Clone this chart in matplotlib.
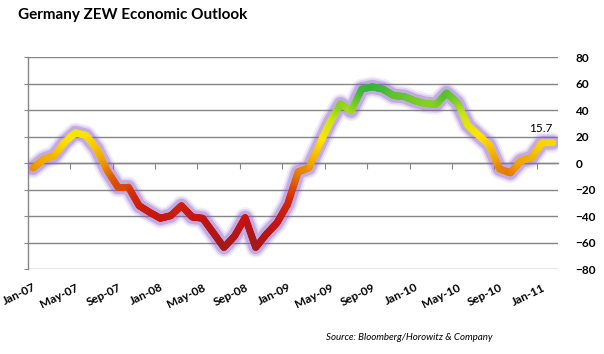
import numpy as np
import matplotlib
matplotlib.use("Agg")
import matplotlib.pyplot as plt
from matplotlib.collections import LineCollection
from matplotlib.colors import LinearSegmentedColormap, Normalize

plt.rcParams['font.family'] = ['Lato', 'DejaVu Sans']

# ZEW economic sentiment, Jan-07 .. Feb-11 (monthly)
months = ['Jan-07', 'Feb-07', 'Mar-07', 'Apr-07', 'May-07', 'Jun-07', 'Jul-07', 'Aug-07',
          'Sep-07', 'Oct-07', 'Nov-07', 'Dec-07', 'Jan-08', 'Feb-08', 'Mar-08', 'Apr-08',
          'May-08', 'Jun-08', 'Jul-08', 'Aug-08', 'Sep-08', 'Oct-08', 'Nov-08', 'Dec-08',
          'Jan-09', 'Feb-09', 'Mar-09', 'Apr-09', 'May-09', 'Jun-09', 'Jul-09', 'Aug-09',
          'Sep-09', 'Oct-09', 'Nov-09', 'Dec-09', 'Jan-10', 'Feb-10', 'Mar-10', 'Apr-10',
          'May-10', 'Jun-10', 'Jul-10', 'Aug-10', 'Sep-10', 'Oct-10', 'Nov-10', 'Dec-10',
          'Jan-11', 'Feb-11']
zew = [-3.6, 2.9, 5.8, 16.0, 23.0, 21.0, 11.0, -5.5,
       -18.0, -18.0, -32.0, -37.0, -41.5, -39.5, -32.0, -40.5,
       -41.5, -52.5, -63.5, -55.0, -41.0, -63.5, -53.5, -45.0,
       -31.0, -6.5, -3.5, 14.0, 31.1, 44.8, 39.5, 56.1,
       57.7, 56.0, 51.1, 50.4, 47.2, 45.1, 44.5, 53.0,
       45.8, 28.7, 21.2, 14.0, -4.3, -7.2, 1.8, 4.3,
       15.4, 15.7]
last_label = '15.7'
source = 'Source: Bloomberg/Horowitz & Company'
title = 'Germany ZEW Economic Outlook'

x = np.arange(len(zew))
y = np.array(zew)

fig = plt.figure(figsize=(6.04, 3.54), dpi=100)
ax = fig.add_axes([0.0459, 0.2393, 0.8779, 0.5988])
ax.set_xlim(-0.5, len(zew) - 0.5)
ax.set_ylim(-80, 80)

grid_c = '#868686'
ax.set_yticks(np.arange(-80, 81, 20))
ax.yaxis.grid(True, color=grid_c, lw=1.0)
ax.set_axisbelow(True)
for s in ['top', 'right', 'bottom']:
    ax.spines[s].set_visible(False)
ax.spines['left'].set_color(grid_c)
ax.spines['left'].set_linewidth(1.0)
ax.tick_params(axis='y', left=True, right=False, labelleft=False, labelright=True,
               length=3, color=grid_c, pad=9.5, labelsize=8.5)
for t in ax.get_yticklabels():
    t.set_fontweight('bold')

# category labels every 4 months along the bottom
ax.set_xticks(x[::4])
ax.set_xticklabels(months[::4])
ax.tick_params(axis='x', length=0, pad=9, labelsize=8.5)
for t in ax.get_xticklabels():
    t.set_fontweight('bold')
    t.set_rotation(26)
    t.set_ha('right')
    t.set_va('top')
    t.set_rotation_mode('anchor')

# category axis crossing at zero, tick marks between categories
sec = ax.secondary_xaxis(0.4999)
sec.set_xticks(np.arange(-0.5, len(zew), 4))
sec.set_xticklabels([])
sec.tick_params(axis='x', length=4, color=grid_c, labelbottom=False, labeltop=False,
                direction='out')
for s in sec.spines.values():
    s.set_color(grid_c)
    s.set_linewidth(1.0)

# purple glow
for lw, a in [(15, 0.10), (12.5, 0.18), (10, 0.34)]:
    ax.plot(x, y, color='#8a5ccc', lw=lw, alpha=a, solid_joinstyle='round',
            solid_capstyle='round', zorder=3)

# value-coloured thick line
cmap = LinearSegmentedColormap.from_list('zew', [
    (0.0, '#a01a1a'), (0.16, '#c41212'), (0.32, '#d42a0a'), (0.44, '#e06a06'),
    (0.52, '#eea000'), (0.68, '#ffe400'), (0.80, '#cce414'), (0.88, '#84d024'),
    (1.0, '#2aae40')])
norm = Normalize(-65, 60)
fine = np.linspace(0, len(zew) - 1, (len(zew) - 1) * 12 + 1)
fy = np.interp(fine, x, y)
pts = np.column_stack([fine, fy]).reshape(-1, 1, 2)
segs = np.concatenate([pts[:-1], pts[1:]], axis=1)
lc = LineCollection(segs, cmap=cmap, norm=norm, linewidths=5.0, capstyle='round',
                    joinstyle='round', zorder=4)
lc.set_array((fy[:-1] + fy[1:]) / 2)
ax.add_collection(lc)

ax.annotate(last_label, (x[-1], y[-1]), xytext=(-12, 14), textcoords='offset pixels',
            ha='center', va='center', fontsize=8.5)

fig.text(18 / 604, 1 - 15 / 354, title, fontsize=11, fontweight='bold',
         ha='left', va='center')
fig.text(492 / 604, 1 - 337 / 354, source, fontsize=7, style='italic',
         ha='right', va='center')

fig.savefig('out.png', dpi=100)
